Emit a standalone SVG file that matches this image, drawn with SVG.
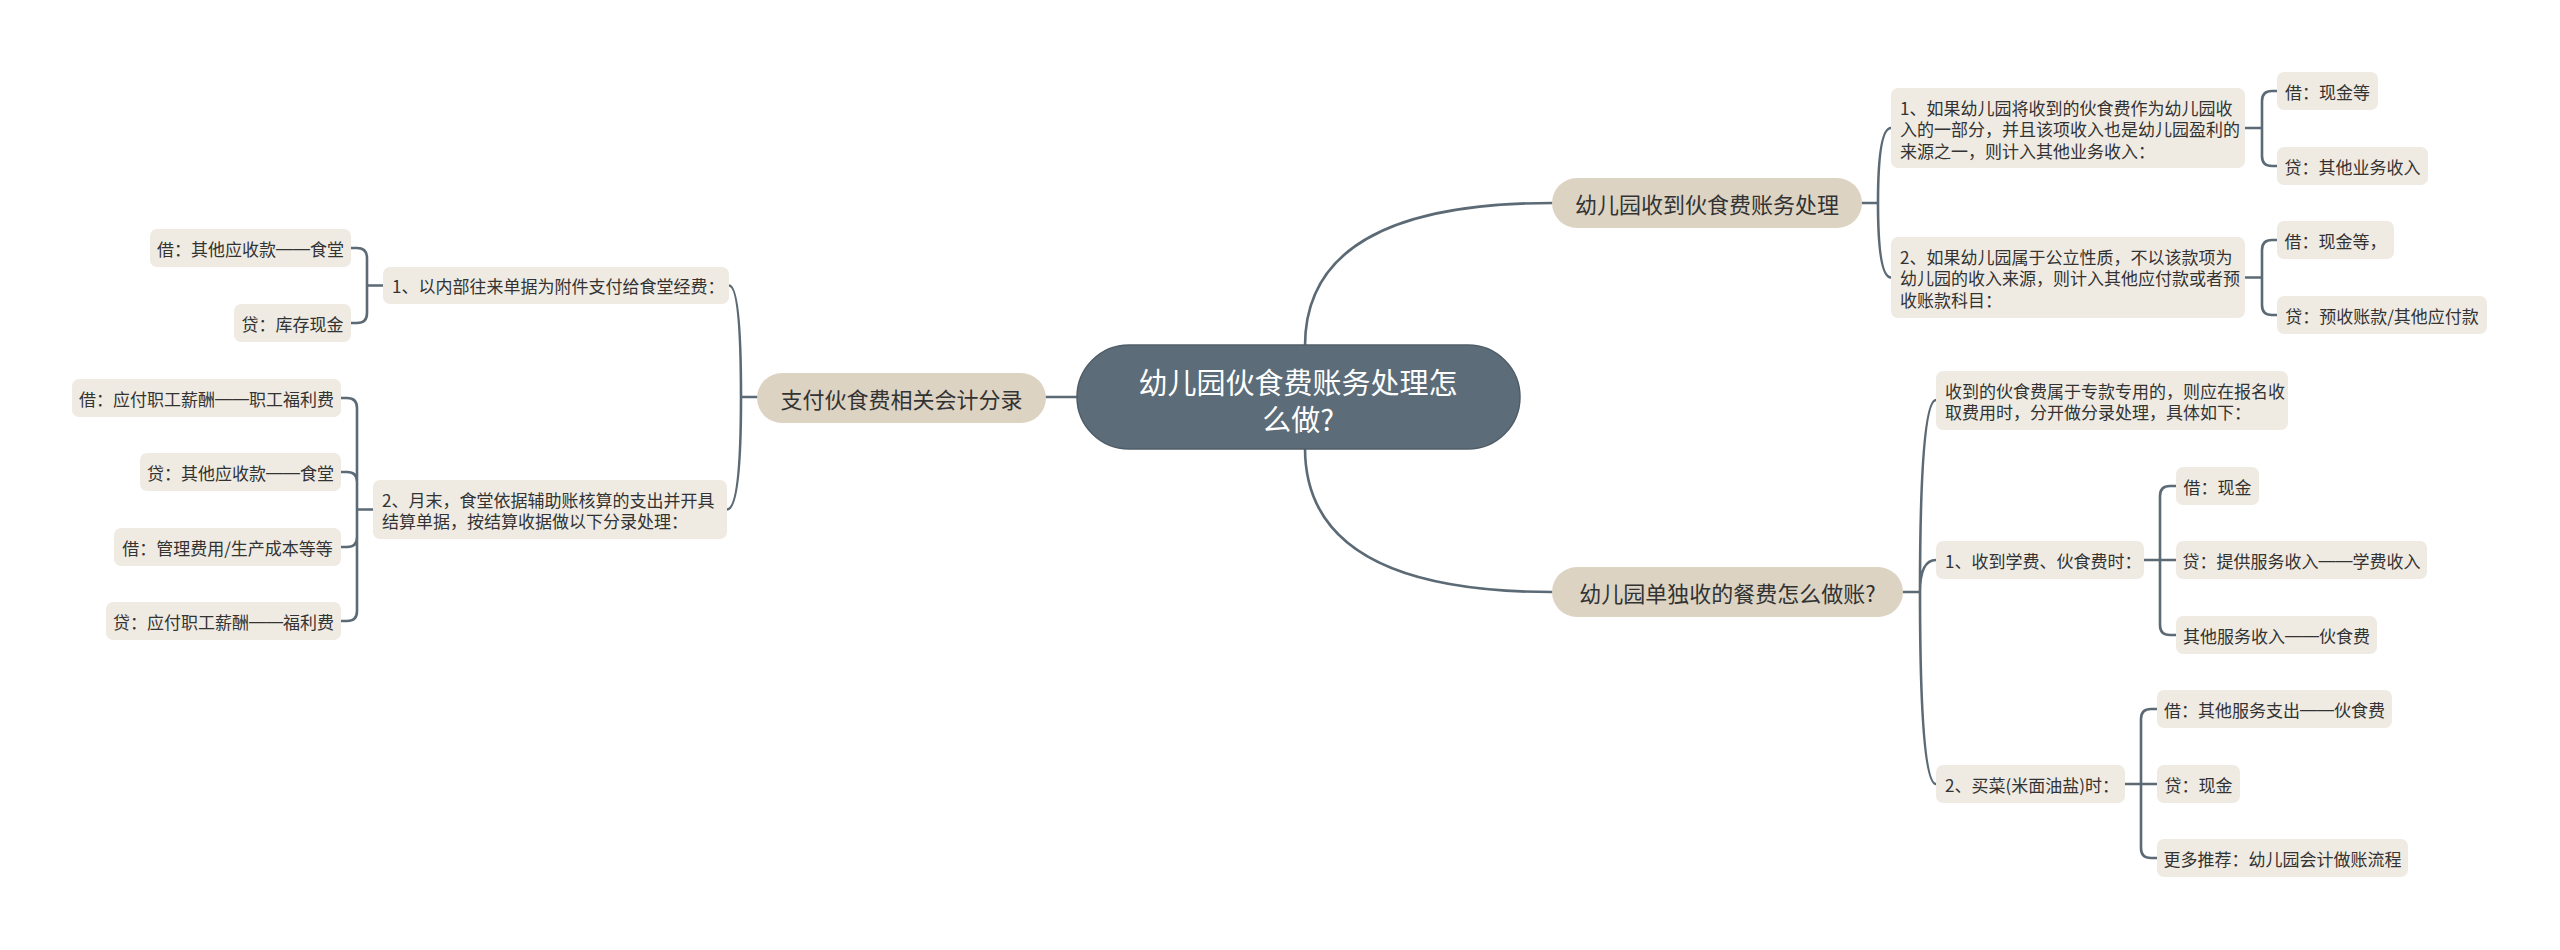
<svg xmlns="http://www.w3.org/2000/svg" width="2560" height="950" viewBox="0 0 2560 950">
<style>
.conn{fill:none;stroke:#5b6a75;stroke-width:2.6;stroke-linecap:round;stroke-linejoin:round}
.leaf rect{fill:#efebe3}
.l1 rect{fill:#ddd3c3}
.root rect{fill:#5c6c78;stroke:#4f5d68;stroke-width:1.5}
text{font-family:"Noto Sans CJK SC","Noto Sans",sans-serif;fill:#333;dominant-baseline:central}
.leaf text{font-size:17px}
.l1 text{font-size:22px;text-anchor:middle}
.root text{font-size:29px;fill:#ffffff;text-anchor:middle}
.c{text-anchor:middle}
.d{font-family:"Liberation Sans",sans-serif}
</style>
<rect width="2560" height="950" fill="#ffffff"/>
<g id="connectors">
<path class="conn" d="M1077,397 L1046,397"/>
<path class="conn" d="M1305,346 Q1305,203 1552,203"/>
<path class="conn" d="M1305,448 Q1305,592 1552,592"/>
<path class="conn" d="M1862,203 L1878,203 M1878,203 Q1878,128 1891,128 M1878,203 Q1878,277.5 1891,277.5"/>
<path class="conn" d="M2245,128 L2262,128 M2262,128 L2262,101 Q2262,91 2272,91 L2277,91 M2262,128 L2262,156 Q2262,166 2272,166 L2277,166"/>
<path class="conn" d="M2245,277.5 L2262,277.5 M2262,277.5 L2262,250 Q2262,240 2272,240 L2277,240 M2262,277.5 L2262,305 Q2262,315 2272,315 L2277,315"/>
<path class="conn" d="M1903,592 L1920,592 M1920,592 Q1920,400 1936,400 M1920,592 Q1920,560 1936,560 M1920,592 Q1920,784 1936,784"/>
<path class="conn" d="M2144,560 L2176,560 M2160,560 L2160,496 Q2160,486 2170,486 L2176,486 M2160,560 L2160,625 Q2160,635 2170,635 L2176,635"/>
<path class="conn" d="M2125,784 L2157,784 M2141,784 L2141,719 Q2141,709 2151,709 L2157,709 M2141,784 L2141,848 Q2141,858 2151,858 L2157,858"/>
<path class="conn" d="M757,397 L741,397 M741,397 Q741,285.5 729,285.5 M741,397 Q741,509.5 727,509.5"/>
<path class="conn" d="M383,285.5 L367,285.5 M367,285.5 L367,258 Q367,248 357,248 L351,248 M367,285.5 L367,313 Q367,323 357,323 L351,323"/>
<path class="conn" d="M373,509.5 L357,509.5 M357,509.5 L357,408 Q357,398 347,398 L341,398 M357,509.5 L357,482 Q357,472 347,472 L341,472 M357,509.5 L357,537 Q357,547 347,547 L341,547 M357,509.5 L357,611 Q357,621 347,621 L341,621"/>
</g>
<g id="root" class="root">
<rect x="1077" y="345" width="443" height="104" rx="52"/>
<text x="1298" y="381">幼儿园伙食费账务处理怎</text>
<text x="1298" y="418">么做?</text>
</g>
<g id="n-a" class="l1">
<rect x="1552" y="178" width="310" height="50" rx="25"/>
<text x="1707" y="203">幼儿园收到伙食费账务处理</text>
</g>
<g id="n-b" class="l1">
<rect x="1552" y="567" width="351" height="50" rx="25"/>
<text x="1727.5" y="592">幼儿园单独收的餐费怎么做账?</text>
</g>
<g id="n-c" class="l1">
<rect x="757" y="373" width="289" height="50" rx="25"/>
<text x="901.5" y="398">支付伙食费相关会计分录</text>
</g>
<g id="a1" class="leaf">
<rect x="1891" y="88" width="354" height="80" rx="7"/>
<text x="1900" y="107">1、如果幼儿园将收到的伙食费作为幼儿园收</text>
<text x="1900" y="128.5">入的一部分，并且该项收入也是幼儿园盈利的</text>
<text x="1900" y="150">来源之一，则计入其他业务收入：</text>
</g>
<g id="a1-1" class="leaf">
<rect x="2277" y="72" width="101" height="38" rx="7"/>
<text class="c" x="2327.5" y="91">借：现金等</text>
</g>
<g id="a1-2" class="leaf">
<rect x="2277" y="147" width="151" height="38" rx="7"/>
<text class="c" x="2352.5" y="166">贷：其他业务收入</text>
</g>
<g id="a2" class="leaf">
<rect x="1891" y="237" width="354" height="81" rx="7"/>
<text x="1900" y="256">2、如果幼儿园属于公立性质，不以该款项为</text>
<text x="1900" y="277.5">幼儿园的收入来源，则计入其他应付款或者预</text>
<text x="1900" y="299">收账款科目：</text>
</g>
<g id="a2-1" class="leaf">
<rect x="2277" y="221" width="117" height="38" rx="7"/>
<text class="c" x="2335.5" y="240">借：现金等，</text>
</g>
<g id="a2-2" class="leaf">
<rect x="2277" y="296" width="210" height="38" rx="7"/>
<text class="c" x="2382" y="315">贷：预收账款/其他应付款</text>
</g>
<g id="b0" class="leaf">
<rect x="1936" y="371" width="352" height="59" rx="7"/>
<text x="1945" y="390">收到的伙食费属于专款专用的，则应在报名收</text>
<text x="1945" y="411">取费用时，分开做分录处理，具体如下：</text>
</g>
<g id="b1" class="leaf">
<rect x="1936" y="541" width="208" height="38" rx="7"/>
<text x="1945" y="560">1、收到学费、伙食费时：</text>
</g>
<g id="b1-1" class="leaf">
<rect x="2176" y="467" width="83" height="38" rx="7"/>
<text class="c" x="2217.5" y="486">借：现金</text>
</g>
<g id="b1-2" class="leaf">
<rect x="2176" y="541" width="251" height="38" rx="7"/>
<text class="c" x="2301.5" y="560">贷：提供服务收入<tspan class="d">——</tspan>学费收入</text>
</g>
<g id="b1-3" class="leaf">
<rect x="2176" y="616" width="201" height="38" rx="7"/>
<text class="c" x="2276.5" y="635">其他服务收入<tspan class="d">——</tspan>伙食费</text>
</g>
<g id="b2" class="leaf">
<rect x="1936" y="765" width="189" height="38" rx="7"/>
<text x="1945" y="784">2、买菜(米面油盐)时：</text>
</g>
<g id="b2-1" class="leaf">
<rect x="2157" y="690" width="235" height="38" rx="7"/>
<text class="c" x="2274.5" y="709">借：其他服务支出<tspan class="d">——</tspan>伙食费</text>
</g>
<g id="b2-2" class="leaf">
<rect x="2157" y="765" width="83" height="38" rx="7"/>
<text class="c" x="2198.5" y="784">贷：现金</text>
</g>
<g id="b2-3" class="leaf">
<rect x="2157" y="839" width="251" height="38" rx="7"/>
<text class="c" x="2282.5" y="858">更多推荐：幼儿园会计做账流程</text>
</g>
<g id="c1" class="leaf">
<rect x="383" y="267" width="346" height="37" rx="7"/>
<text x="392" y="285.5">1、以内部往来单据为附件支付给食堂经费：</text>
</g>
<g id="c1-1" class="leaf">
<rect x="150" y="229" width="201" height="38" rx="7"/>
<text class="c" x="250.5" y="248">借：其他应收款<tspan class="d">——</tspan>食堂</text>
</g>
<g id="c1-2" class="leaf">
<rect x="234" y="304" width="117" height="38" rx="7"/>
<text class="c" x="292.5" y="323">贷：库存现金</text>
</g>
<g id="c2" class="leaf">
<rect x="373" y="480" width="354" height="59" rx="7"/>
<text x="382" y="499">2、月末，食堂依据辅助账核算的支出并开具</text>
<text x="382" y="520.5">结算单据，按结算收据做以下分录处理：</text>
</g>
<g id="c2-1" class="leaf">
<rect x="72" y="379" width="269" height="38" rx="7"/>
<text class="c" x="206.5" y="398">借：应付职工薪酬<tspan class="d">——</tspan>职工福利费</text>
</g>
<g id="c2-2" class="leaf">
<rect x="140" y="453" width="201" height="38" rx="7"/>
<text class="c" x="240.5" y="472">贷：其他应收款<tspan class="d">——</tspan>食堂</text>
</g>
<g id="c2-3" class="leaf">
<rect x="114" y="528" width="227" height="38" rx="7"/>
<text class="c" x="227.5" y="547">借：管理费用/生产成本等等</text>
</g>
<g id="c2-4" class="leaf">
<rect x="106" y="602" width="235" height="38" rx="7"/>
<text class="c" x="223.5" y="621">贷：应付职工薪酬<tspan class="d">——</tspan>福利费</text>
</g>
</svg>
